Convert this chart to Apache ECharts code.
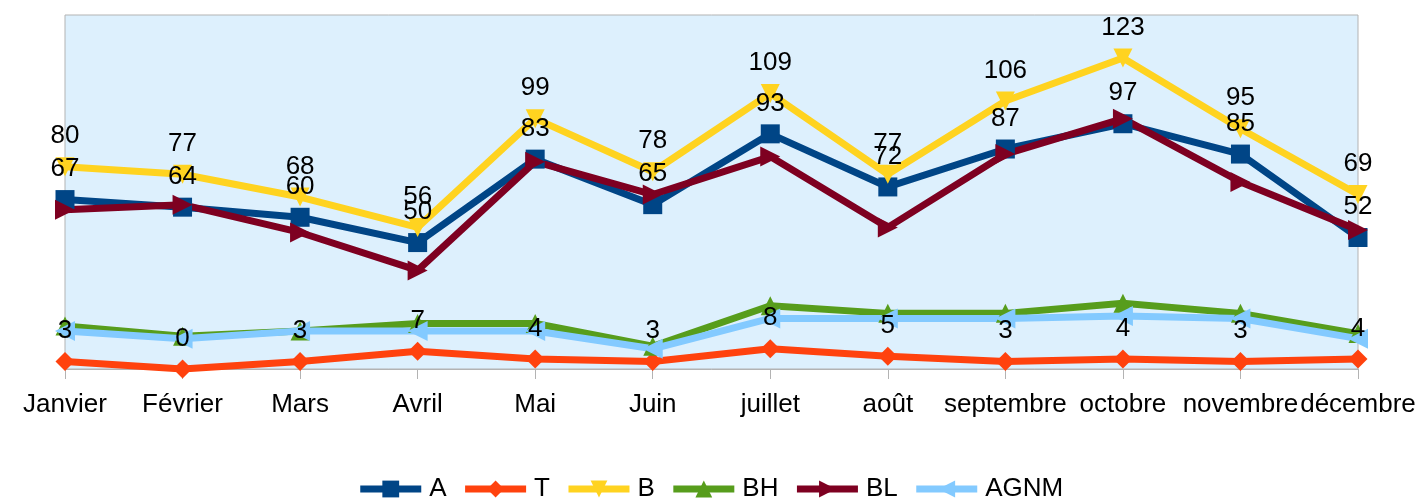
<!DOCTYPE html>
<html>
<head>
<meta charset="utf-8">
<script src="https://cdn.jsdelivr.net/npm/echarts@6/dist/echarts.min.js"></script>
<style>
html,body{margin:0;padding:0;background:#fff;}
#chart{width:1420px;height:498px;}
</style>
</head>
<body>
<div id="chart"></div>
<script>
const categories = ['Janvier','Février','Mars','Avril','Mai','Juin','juillet','août','septembre','octobre','novembre','décembre'];
const seriesNames = ['A','T','B','BH','BL','AGNM'];
const valuesA = [67,64,60,50,83,65,93,72,87,97,85,52];
const valuesT = [3,0,3,7,4,3,8,5,3,4,3,4];
const valuesB = [80,77,68,56,99,78,109,77,106,123,95,69];
const valuesBH = [17,13,15,18,18,9,25,22,22,26,22,14];
const valuesBL = [63,65,54,39,82,69,84,56,85,99,74,55];
const valuesAGNM = [15,12,15,15,15,8,20,20,20,21,20,12];
const yMin = 0, yMax = 140;

const colors = ['#004586','#ff420e','#ffd320','#579d1c','#7e0021','#83caff'];
const FONT = 'Liberation Sans';
const FS = 26;

const chart = echarts.init(document.getElementById('chart'), null, {renderer:'canvas'});

function mk(name, data, color, symbol, rotate, size, labelled){
  return {
    name: name, type:'line', data: data,
    symbol: symbol, symbolRotate: rotate, symbolSize: size,
    lineStyle:{color:color, width:7},
    itemStyle:{color:color},
    label:{show:labelled, position:'top', distance:8, color:'#000', fontSize:FS, fontFamily:FONT},
    emphasis:{disabled:true},
    animation:false
  };
}

chart.setOption({
  animation:false,
  grid:{left:65, right:62, top:15, bottom:129, show:true, backgroundColor:'#ddf0fd', borderColor:'#b3b3b3', borderWidth:1},
  legend:{
    data: seriesNames, top:471, left:'center',
    itemWidth:61, itemHeight:21, itemGap:15,
    lineStyle:{width:7},
    textStyle:{fontSize:FS, fontFamily:FONT, color:'#000', padding:[0,0,0,3]}
  },
  xAxis:{
    type:'category', data:categories, boundaryGap:false,
    axisLine:{lineStyle:{color:'#b3b3b3', width:1}},
    axisTick:{show:true, length:10, lineStyle:{color:'#b3b3b3'}},
    axisLabel:{fontSize:FS, fontFamily:FONT, color:'#000', margin:23, interval:0}
  },
  yAxis:{type:'value', min:yMin, max:yMax, show:false, splitLine:{show:false}},
  series:[
    mk('A', valuesA, colors[0], 'rect', 0, 19, true),
    mk('T', valuesT, colors[1], 'diamond', 0, 19, true),
    mk('B', valuesB, colors[2], 'triangle', 180, 19, true),
    mk('BH', valuesBH, colors[3], 'triangle', 0, 19, false),
    mk('BL', valuesBL, colors[4], 'triangle', -90, 20, false),
    mk('AGNM', valuesAGNM, colors[5], 'triangle', 90, 20, false)
  ]
});
</script>
</body>
</html>
